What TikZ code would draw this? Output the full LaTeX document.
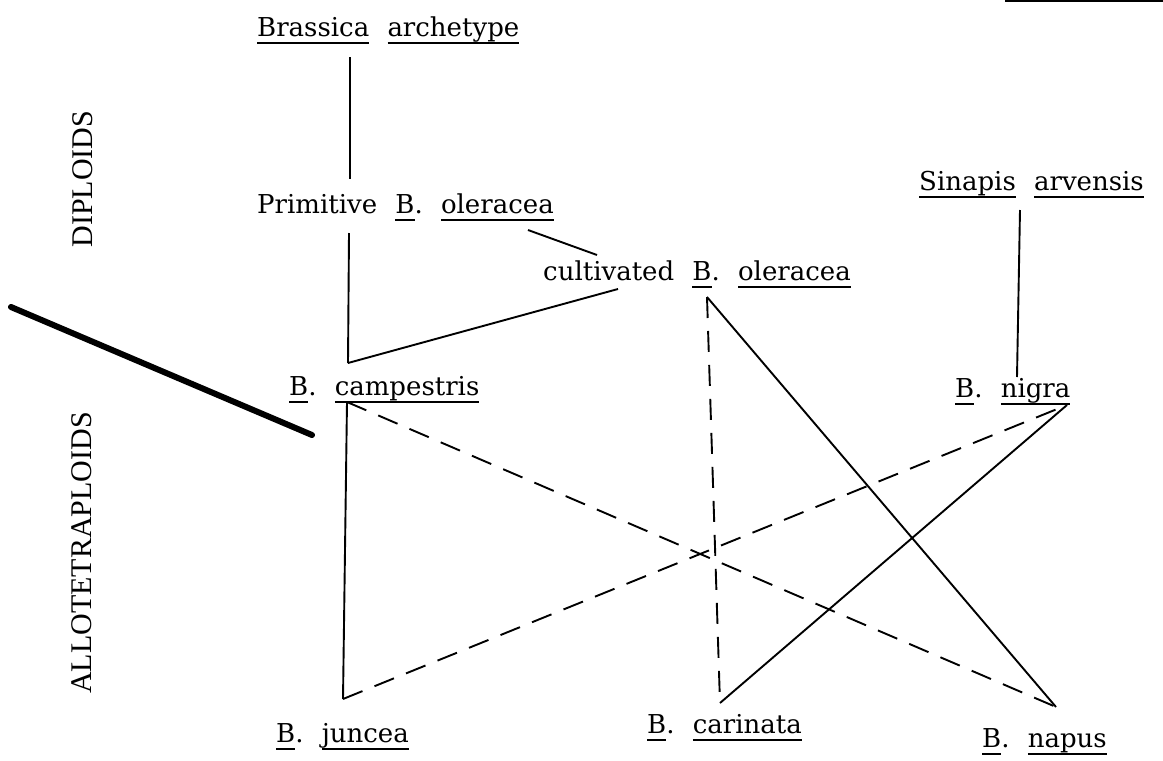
\documentclass[tikz,border=0pt]{standalone}
\usepackage{fontspec}
\setmainfont{DejaVu Serif}
\newfontfamily\capsfont{Liberation Serif}
\newcommand{\ulw}[1]{\setbox0=\hbox{#1}\rlap{\rule[-8pt]{\wd0}{1.8pt}}\box0}
\newcommand{\wgap}{\hspace{0.7em}}
\begin{document}
\begin{tikzpicture}[x=1pt,y=-1pt,
  lbl/.style={anchor=base west,inner sep=0pt,font=\fontsize{26}{30}\selectfont},
  side/.style={rotate=90,inner sep=0pt,font=\capsfont\fontsize{30}{34}\selectfont},
  link/.style={line width=1.9pt},
  dlink/.style={line width=1.9pt,dash pattern=on 21pt off 13pt},
  bar/.style={line width=6pt,line cap=round}]
\useasboundingbox (0,0) rectangle (1163,761);

% side headings
\node[side] (dip) at (83,179) {DIPLOIDS};
\node[side] (allo) at (82,553) {ALLOTETRAPLOIDS};

% labels
\node[lbl] (arche) at (257,36) {\ulw{Brassica}\wgap\ulw{archetype}};
\node[lbl] (prim) at (257,213) {Primitive\wgap\ulw{B}.\wgap\ulw{oleracea}};
\node[lbl] (sinap) at (919,190) {\ulw{Sinapis}\wgap\ulw{arvensis}};
\node[lbl] (cult) at (543,280) {cultivated\wgap\ulw{B}.\wgap\ulw{oleracea}};
\node[lbl] (camp) at (289,395) {\ulw{B}.\wgap\ulw{campestris}};
\node[lbl] (nigra) at (955,397) {\ulw{B}.\wgap\ulw{nigra}};
\node[lbl] (juncea) at (276,742) {\ulw{B}.\wgap\ulw{juncea}};
\node[lbl] (carin) at (647,733) {\ulw{B}.\wgap\ulw{carinata}};
\node[lbl] (napus) at (982,747) {\ulw{B}.\wgap\ulw{napus}};

% junction points
\coordinate (a1) at (350,57);
\coordinate (a2) at (350,179);
\coordinate (p1) at (349,233);
\coordinate (p2) at (528,230);
\coordinate (k1) at (597,255);
\coordinate (k2) at (618,289);
\coordinate (k3) at (707,297);
\coordinate (c1) at (348,363);
\coordinate (c2) at (347,402);
\coordinate (s1) at (1020,210);
\coordinate (g1) at (1017,377);
\coordinate (gc) at (1067,405);
\coordinate (jc) at (343,699);
\coordinate (cc) at (720,703);
\coordinate (nc) at (1056,707);
\coordinate (t1) at (11,307);
\coordinate (t2) at (312,435);
\coordinate (r1) at (1005,1);
\coordinate (r2) at (1163,1);

% solid connectors
\draw[link] (a1) -- (a2);
\draw[link] (p1) -- (c1);
\draw[link] (p2) -- (k1);
\draw[link] (k2) -- (c1);
\draw[link] (s1) -- (g1);
\draw[link] (c2) -- (jc);
\draw[link] (k3) -- (nc);
\draw[link] (gc) -- (cc);

% dashed connectors
\draw[dlink] (c2) -- (nc);
\draw[dlink] (jc) -- (gc);
\draw[dlink] (k3) -- (cc);

% heavy bar and top rule
\draw[bar] (t1) -- (t2);
\draw[line width=2pt] (r1) -- (r2);
\end{tikzpicture}
\end{document}
